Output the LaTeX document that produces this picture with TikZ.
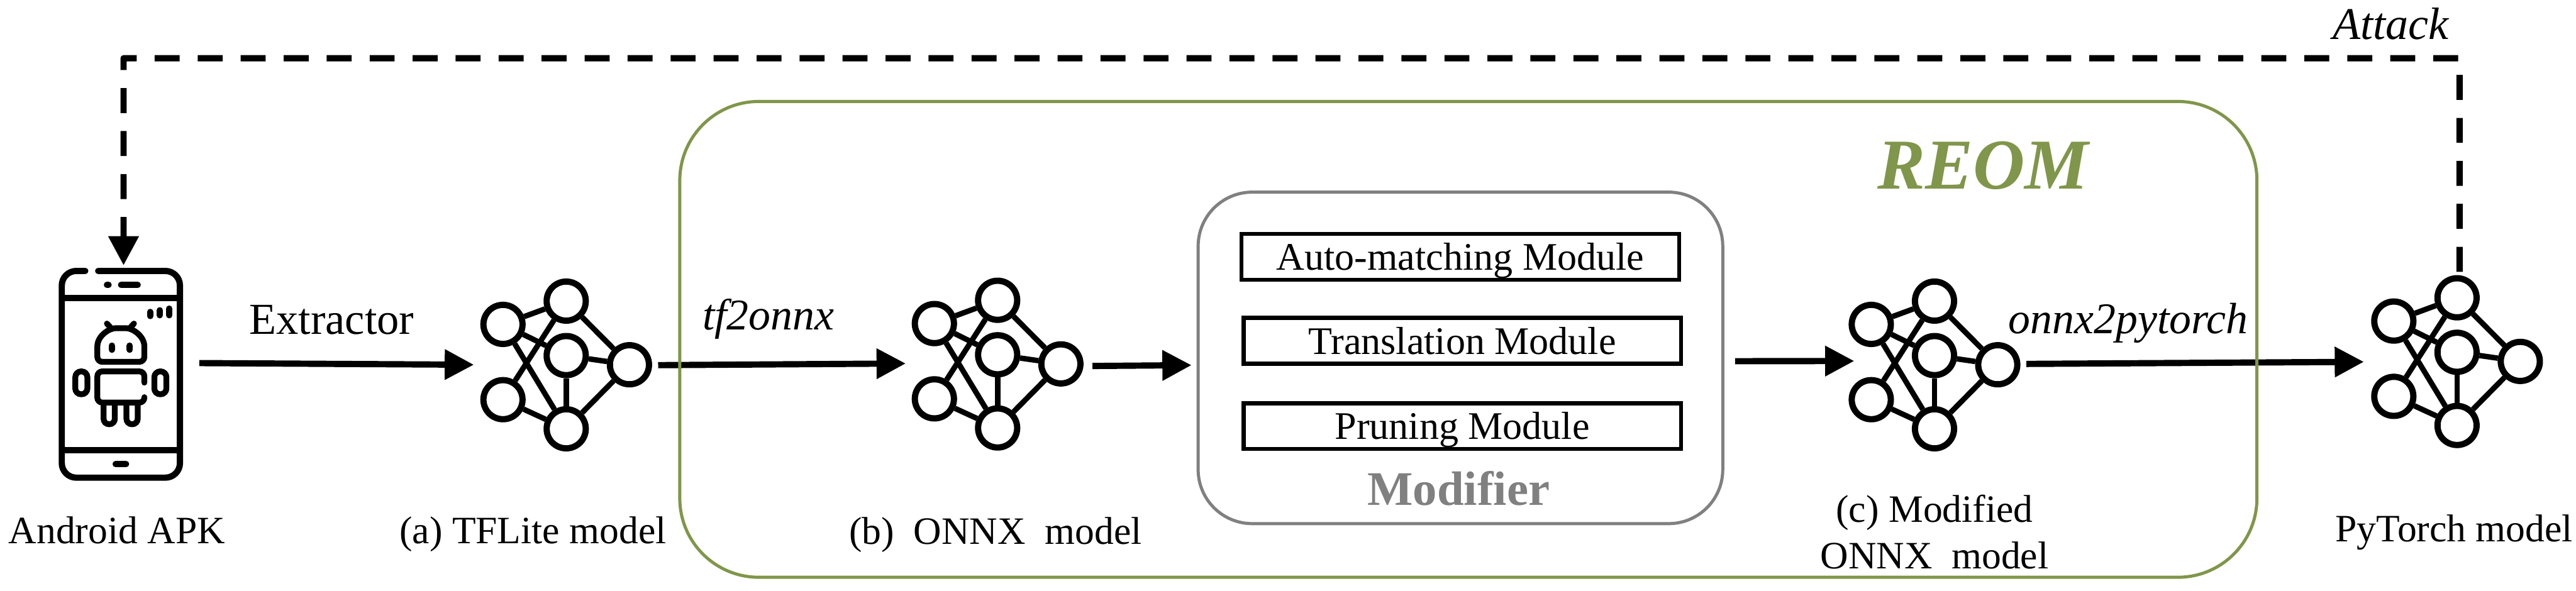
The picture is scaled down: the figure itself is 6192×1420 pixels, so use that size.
\documentclass[tikz,border=0pt]{standalone}
\usepackage{fontspec}
\setmainfont{Liberation Serif}
\usetikzlibrary{arrows.meta,positioning}
\definecolor{cReom}{HTML}{80964A}
\definecolor{cMod}{HTML}{808080}
\definecolor{cInk}{HTML}{000000}
\tikzset{
  lbl/.style={anchor=base, text=cInk, inner sep=0pt, align=center, font=\fontsize{26.5}{32}\selectfont},
  lbli/.style={anchor=base, text=cInk, inner sep=0pt, font=\itshape\fontsize{30}{36}\selectfont},
  flow/.style={-{Triangle[length=7mm,width=7mm]}, line width=1.5mm, draw=cInk},
  atk/.style={-{Triangle[length=7mm,width=7mm]}, line width=1.5mm, draw=cInk, line join=round, dash pattern=on 6mm off 4.334mm},
  modb/.style={draw=cInk, line width=1mm, minimum width=105.2mm, minimum height=11mm, inner sep=0pt, text height=18.2pt, text depth=0pt, font=\fontsize{26.7}{32}\selectfont},
  grp/.style={rounded corners=#1, line width=.75mm, inner sep=0pt},
  nn/.style={circle, draw=cInk, line width=1.5mm, minimum size=9.4mm, inner sep=0pt},
  ne/.style={line width=1.3mm, draw=cInk},
  ico/.style={line width=1.5mm, draw=cInk, line cap=round},
  netw/.pic={
    \node[nn] (-c) at (0,0) {};
    \node[nn] (-t) at (0,-131) {};
    \node[nn] (-b) at (0,176) {};
    \node[nn] (-p) at (-152,-75) {};
    \node[nn] (-q) at (-152,106) {};
    \node[nn] (-r) at (152,22) {};
    \draw[ne] (-p)--(-t); \draw[ne] (-p)--(-c); \draw[ne] (-p)--(-b);
    \draw[ne] (-q)--(-t); \draw[ne] (-q)--(-b);
    \draw[ne] (-t)--(-r); \draw[ne] (-c)--(-r); \draw[ne] (-b)--(-r);
    \draw[ne] (-c)--(-b);
  },
}
\begin{document}
\begin{tikzpicture}[x=.1mm,y=-.1mm]
\useasboundingbox (0,0) rectangle (6192,1420);
% phone
\node[minimum width=29.9mm, minimum height=51.2mm, inner sep=0pt, outer sep=0pt] (apk) at (290.5,900) {};
\draw[ico, rounded corners=3.5mm] (205,651.5) -- (148.5,651.5) -- (148.5,1148.5) -- (432.5,1148.5) -- (432.5,651.5) -- (236,651.5);
\draw[ico, line cap=butt] (148.5,717) -- (432.5,717);
\draw[ico, line cap=butt] (148.5,1083) -- (432.5,1083);
\draw[ico] (257,685) -- (261,685);
\draw[ico] (291,685) -- (331,685);
\draw[ico] (278,1116) -- (303,1116);
\draw[ico] (361,750) -- (361,760);
\draw[ico] (384,746) -- (384,758);
\draw[ico] (407,742) -- (407,758);
% robot
\draw[ico, line width=1.4mm] (257,778) -- (268,790);
\draw[ico, line width=1.4mm] (322,778) -- (311,790);
\draw[ico, line width=1.4mm, rounded corners=1.2mm] (234,845) .. controls (234,808) and (262,789) .. (290.5,789) .. controls (319,789) and (347,808) .. (347,845) -- (347,870) -- (234,870) -- cycle;
\draw[ico] (269,831) -- (269,841);
\draw[ico] (312,831) -- (312,841);
\draw[ico, line width=1.4mm, rounded corners=1.2mm] (347,920) -- (347,893) -- (234,893) -- (234,968) -- (347,968) -- (347,955);
\draw[ico, line width=1.4mm, rounded corners=1.4mm] (181,893) rectangle (210,948);
\draw[ico, line width=1.4mm, rounded corners=1.4mm] (371,893) rectangle (400,948);
\draw[ico, line width=1.4mm, rounded corners=1.3mm] (249,975) -- (249,1020) -- (276,1020) -- (276,975);
\draw[ico, line width=1.4mm, rounded corners=1.3mm] (304,975) -- (304,1020) -- (331,1020) -- (331,975);
% networks
\pic (netA) at (1361,855) {netw};
\pic (netB) at (2398,853) {netw};
\pic (netC) at (4650,855) {netw};
\pic (netP) at (5906,847) {netw};
% modifier
\node[grp=13mm, draw=cMod, minimum width=126.1mm, minimum height=79.7mm] (mod) at (3510.5,860.5) {};
\node[modb] (m1) at (3510,617.5) {Auto-matching Module};
\node[modb, below=8.2mm of m1, xshift=.5mm] (m2) {Translation Module};
\node[modb, below=8.5mm of m2] (m3) {Pruning Module};
\node[anchor=base, inner sep=0pt, text=cMod, font=\bfseries\fontsize{33}{40}\selectfont] (modt) at (3506,1215) {Modifier};
% labels
\node[lbl] (lApk) at (281,1307) {Android APK};
\node[lbl] (lA) at (1281,1307) {(a) TFLite model};
\node[lbl] (lB) at (2393,1309) {(b)\ \ ONNX\ \ model};
\node[lbl] (lC) at (4650,1368) {(c) Modified\\ONNX\ \ model};
\node[lbl] (lP) at (5899,1302) {PyTorch model};
\node[lbl] (lEx) at (797,804) {\fontsize{30.3}{36}\selectfont Extractor};
\node[lbli] (lTf) at (1847,793) {tf2onnx};
\node[lbli] (lOp) at (5116,802) {onnx2pytorch};
\node[lbli] (lAt) at (5747,94) {\fontsize{31}{37}\selectfont Attack};
\node[anchor=base, inner sep=0pt, text=cReom, font=\bfseries\itshape\fontsize{49}{58}\selectfont] (lRe) at (4767,455) {REOM};
% connectors
\coordinate (inA) at (1139,877);
\coordinate (inB) at (2177,874);
\coordinate (inM) at (2864,878);
\coordinate (inC) at (4457,868);
\coordinate (inP) at (5682,870);
\coordinate (cTR) at (5912,140);
\coordinate (cTL) at (297,140);
\coordinate (inK) at (297,638);
\draw[flow] ([xshift=3.9mm,yshift=2.7mm]apk.east) -- (inA);
\draw[flow] ([xshift=1.45mm,yshift=-.1mm]netA-r.east) -- (inB);
\draw[flow] ([xshift=2.15mm,yshift=-.5mm]netB-r.east) -- (inM);
\draw[flow] ([xshift=2.6mm,yshift=-.8mm]mod.east) -- (inC);
\draw[flow] ([xshift=1.45mm,yshift=.2mm]netC-r.east) -- (inP);
\draw[atk] ([xshift=.6mm,yshift=.8mm]netP-t.north) -- (cTR) -- (cTL) -- (inK);
% REOM box on top of the arrows
\node[grp=19mm, draw=cReom, minimum width=379.1mm, minimum height=114.4mm] (reom) at (3529.5,816) {};
\end{tikzpicture}
\end{document}
